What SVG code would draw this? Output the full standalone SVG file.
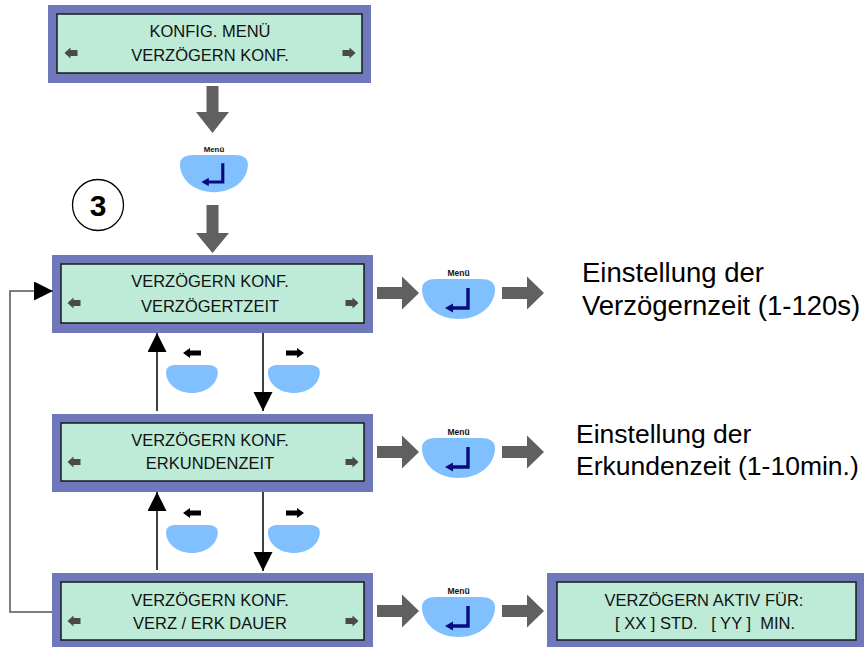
<svg xmlns="http://www.w3.org/2000/svg" xmlns:xlink="http://www.w3.org/1999/xlink" width="864" height="647" viewBox="0 0 864 647">
  <style>
    .frame { fill: #6f78bb; }
    .screen { fill: #bdebd7; stroke: #1a1a1a; stroke-width: 1.5; }
    .lcd { font-family: "Liberation Sans", Arial, sans-serif; font-size: 16.5px; fill: #111; text-anchor: middle; }
    .note { font-family: "Liberation Sans", Arial, sans-serif; fill: #000; }
    .key { font-family: "Liberation Sans", Arial, sans-serif; font-size: 8.5px; font-weight: bold; fill: #111; text-anchor: middle; }
    .block { fill: #606060; }
    .link { fill: none; stroke: #000; stroke-width: 1.5; }
    .loop { fill: none; stroke: #555; stroke-width: 1.5; }
    .nav { fill: #4a4a4a; }
    .hint { fill: #000; }
  </style>
  <defs>
    <marker id="tri" markerUnits="userSpaceOnUse" markerWidth="20" markerHeight="20" refX="19" refY="9.5" orient="auto">
      <path d="M0,0 L19,9.5 L0,19 Z" fill="#000"/>
    </marker>
    <!-- push button body, 73 x 40 -->
    <path id="btn" d="M0,10 C0,3 6,0 14,0 L59,0 C67,0 73,3 73,10 C73,27 57,40 36.5,40 C16,40 0,27 0,10 Z" fill="#80c0ff"/>
    <!-- enter symbol drawn on the menu key -->
    <g id="enter">
      <path d="M46,9 L46,29 L29,29" fill="none" stroke="#0a0a80" stroke-width="3.4"/>
      <path d="M23,29 L31,24.5 L31,33.5 Z" fill="#0a0a80"/>
    </g>
    <g id="menukey">
      <use xlink:href="#btn"/>
      <use xlink:href="#enter"/>
      <text class="key" x="36.5" y="-3">Menü</text>
    </g>
    <!-- small arrows shown on the display -->
    <polygon id="navL" class="nav" points="-6.5,0 -0.5,-5.5 -0.5,-3 6.5,-3 6.5,3 -0.5,3 -0.5,5.5"/>
    <polygon id="hintL" class="hint" points="-9,0 -2,-5 -2,-2.5 9,-2.5 9,2.5 -2,2.5 -2,5"/>
  </defs>

  <rect width="864" height="647" fill="#fff"/>

  <!-- display screens -->
  <g id="screen-konfig-menu">
    <rect class="frame" x="48" y="5" width="323" height="78"/>
    <rect class="screen" x="57" y="14" width="305" height="59"/>
    <text class="lcd" x="210" y="37">KONFIG. MENÜ</text>
    <text class="lcd" x="210" y="61">VERZÖGERN KONF.</text>
    <use xlink:href="#navL" x="71" y="53"/>
    <use xlink:href="#navL" transform="translate(349,53) scale(-1,1)"/>
  </g>

  <g id="screen-verzoegertzeit">
    <rect class="frame" x="52" y="255" width="321" height="78"/>
    <rect class="screen" x="61" y="264" width="303" height="59"/>
    <text class="lcd" x="210" y="287">VERZÖGERN KONF.</text>
    <text class="lcd" x="210" y="312">VERZÖGERTZEIT</text>
    <use xlink:href="#navL" x="74" y="303"/>
    <use xlink:href="#navL" transform="translate(352,303) scale(-1,1)"/>
  </g>

  <g id="screen-erkundenzeit">
    <rect class="frame" x="52" y="414" width="321" height="78"/>
    <rect class="screen" x="61" y="423" width="303" height="58"/>
    <text class="lcd" x="210" y="446">VERZÖGERN KONF.</text>
    <text class="lcd" x="210" y="469">ERKUNDENZEIT</text>
    <use xlink:href="#navL" x="74" y="462"/>
    <use xlink:href="#navL" transform="translate(352,462) scale(-1,1)"/>
  </g>

  <g id="screen-dauer">
    <rect class="frame" x="52" y="573" width="321" height="78"/>
    <rect class="screen" x="61" y="582" width="303" height="58"/>
    <text class="lcd" x="210" y="606">VERZÖGERN KONF.</text>
    <text class="lcd" x="210" y="629">VERZ / ERK DAUER</text>
    <use xlink:href="#navL" x="74" y="621"/>
    <use xlink:href="#navL" transform="translate(352,621) scale(-1,1)"/>
  </g>

  <g id="screen-aktiv">
    <rect class="frame" x="547" y="573" width="320" height="78"/>
    <rect class="screen" x="557" y="582" width="299" height="58"/>
    <text class="lcd" x="704" y="606">VERZÖGERN AKTIV FÜR:</text>
    <text class="lcd" x="705" y="629" xml:space="preserve">[ XX ] STD.   [ YY ]  MIN.</text>
  </g>

  <!-- step marker -->
  <g id="step-3">
    <circle cx="98" cy="205" r="25.5" fill="#fff" stroke="#000" stroke-width="1.3"/>
    <text x="98" y="216" font-family="Liberation Sans, Arial, sans-serif" font-size="30" font-weight="bold" text-anchor="middle">3</text>
  </g>

  <!-- keys -->
  <g id="key-menu-top">
    <use xlink:href="#menukey" transform="translate(180,155) scale(0.93)"/>
  </g>
  <g id="key-menu-1">
    <use xlink:href="#menukey" x="422" y="279"/>
  </g>
  <g id="key-menu-2">
    <use xlink:href="#menukey" x="422" y="438"/>
  </g>
  <g id="key-menu-3">
    <use xlink:href="#menukey" x="422" y="597"/>
  </g>
  <g id="key-left-1">
    <use xlink:href="#btn" transform="translate(166,365) scale(0.71,0.7)"/>
    <use xlink:href="#hintL" x="192" y="353"/>
  </g>
  <g id="key-right-1">
    <use xlink:href="#btn" transform="translate(268,365) scale(0.71,0.7)"/>
    <use xlink:href="#hintL" transform="translate(295,353) scale(-1,1)"/>
  </g>
  <g id="key-left-2">
    <use xlink:href="#btn" transform="translate(166,525) scale(0.71,0.7)"/>
    <use xlink:href="#hintL" x="192" y="513"/>
  </g>
  <g id="key-right-2">
    <use xlink:href="#btn" transform="translate(268,525) scale(0.71,0.7)"/>
    <use xlink:href="#hintL" transform="translate(295,513) scale(-1,1)"/>
  </g>

  <!-- setting descriptions -->
  <g id="note-verzoegernzeit">
    <text class="note" font-size="27.5" x="582" y="282">Einstellung der</text>
    <text class="note" font-size="27.5" x="582" y="315">Verzögernzeit (1-120s)</text>
  </g>
  <g id="note-erkundenzeit">
    <text class="note" font-size="26.5" x="576" y="443">Einstellung der</text>
    <text class="note" font-size="26.5" x="576" y="475">Erkundenzeit (1-10min.)</text>
  </g>

  <!-- connectors -->
  <g id="connectors">
    <polygon class="block" points="206.5,86 218.5,86 218.5,112 229,112 212.5,133 196,112 206.5,112"/>
    <polygon class="block" points="206.5,205 218.5,205 218.5,233 229,233 212.5,253 196,233 206.5,233"/>

    <polygon class="block" points="377,287 402,287 402,276.5 419,293 402,309.5 402,299 377,299"/>
    <polygon class="block" points="502,287 527,287 527,276.5 544,293 527,309.5 527,299 502,299"/>
    <polygon class="block" points="377,446 402,446 402,435.5 419,452 402,468.5 402,458 377,458"/>
    <polygon class="block" points="502,446 527,446 527,435.5 544,452 527,468.5 527,458 502,458"/>
    <polygon class="block" points="377,605 402,605 402,594.5 419,611 402,627.5 402,617 377,617"/>
    <polygon class="block" points="502,605 527,605 527,594.5 544,611 527,627.5 527,617 502,617"/>

    <line class="link" x1="157" y1="411" x2="157" y2="333" marker-end="url(#tri)"/>
    <line class="link" x1="263" y1="333" x2="263" y2="411" marker-end="url(#tri)"/>
    <line class="link" x1="157" y1="570" x2="157" y2="492" marker-end="url(#tri)"/>
    <line class="link" x1="263" y1="492" x2="263" y2="571" marker-end="url(#tri)"/>

    <polyline class="loop" points="52,612 10,612 10,291 53,291" marker-end="url(#tri)"/>
  </g>
</svg>
